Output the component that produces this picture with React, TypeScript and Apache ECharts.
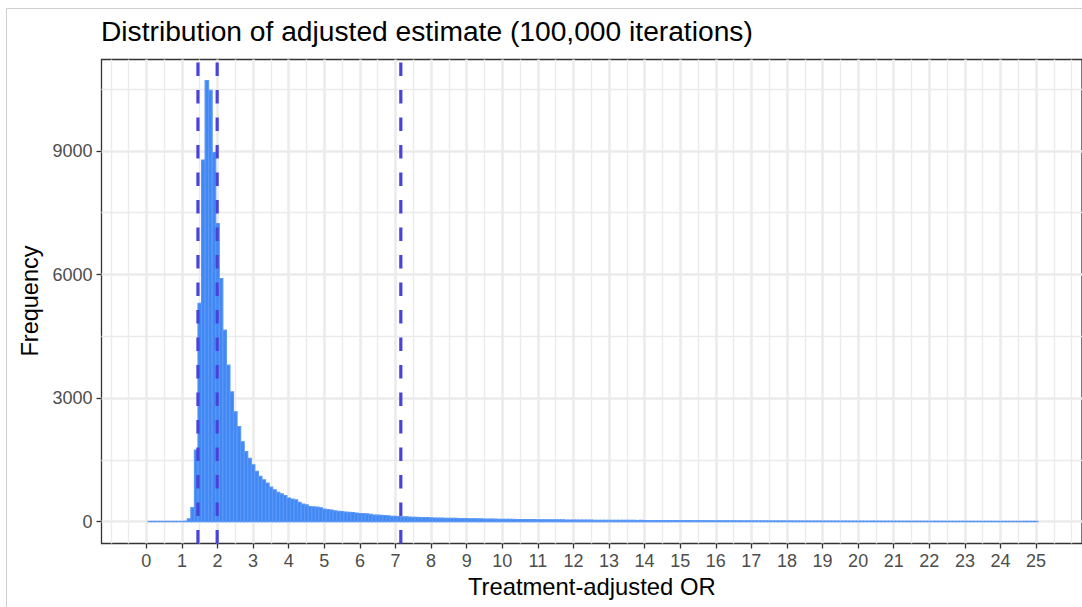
import React, { useEffect, useRef } from "react";
import * as echarts from "echarts";

// Histogram of the treatment-adjusted odds ratio, bins of width 0.1 centred on 0.1, 0.2, ..., 25.0
const BIN_WIDTH = 0.1;
const FIRST_CENTER = 0.1;

// Counts per bin, grouped by range of the odds ratio
const counts0to5 = [
  0, 0, 0, 0, 0, 0, 0, 0, 0, 2, // 0.1 – 1.0
  12, 70, 340, 1740, 5300, 8780, 10710, 10470, 8960, 7240, // 1.1 – 2.0
  5900, 4650, 3800, 3150, 2670, 2310, 1940, 1700, 1540, 1380, // 2.1 – 3.0
  1220, 1100, 1015, 935, 840, 775, 710, 675, 635, 575, // 3.1 – 4.0
  548, 530, 472, 425, 408, 368, 358, 352, 338, 306, // 4.1 – 5.0
];
const counts5to10 = [
  292, 284, 263, 251, 246, 233, 227, 221, 210, 199, // 5.1 – 6.0
  195, 188, 179, 163, 158, 153, 149, 141, 133, 128, // 6.1 – 7.0
  126, 119, 116, 111, 109, 107, 103, 100, 97, 92, // 7.1 – 8.0
  90, 87, 86, 83, 82, 79, 80, 76, 74, 73, // 8.1 – 9.0
  71, 70, 68, 68, 65, 64, 64, 61, 60, 59, // 9.1 – 10.0
];
const counts10to15 = [
  58, 56, 57, 54, 53, 53, 51, 50, 50, 48,
  47, 47, 45, 45, 44, 43, 43, 41, 41, 40,
  40, 39, 39, 37, 38, 36, 36, 35, 35, 34,
  34, 33, 33, 32, 33, 31, 31, 30, 31, 29,
  29, 29, 28, 28, 27, 28, 27, 26, 26, 26,
];
const counts15to20 = [
  25, 26, 25, 24, 25, 24, 23, 24, 23, 22,
  23, 22, 22, 21, 22, 21, 21, 20, 21, 20,
  20, 19, 20, 19, 19, 18, 19, 18, 18, 17,
  18, 17, 17, 17, 16, 17, 16, 16, 16, 15,
  16, 15, 15, 15, 14, 15, 14, 14, 14, 13,
];
const counts20to25 = [
  14, 13, 13, 14, 13, 12, 13, 12, 12, 12,
  12, 12, 11, 12, 11, 11, 11, 10, 11, 10,
  10, 11, 10, 10, 9, 10, 9, 9, 10, 9,
  9, 9, 8, 9, 8, 8, 9, 8, 8, 7,
  8, 7, 8, 7, 7, 7, 8, 6, 7, 7,
];

// Dashed reference lines (lower bound, median, upper bound)
const referenceLines = [1.45, 1.99, 7.15];

// Axis breaks
const xTicks = Array.from({ length: 26 }, (_, i) => i);
const xMinorGrid = [-1, ...Array.from({ length: 27 }, (_, i) => i - 0.5), 26];
const yTicks = [0, 3000, 6000, 9000];
const yMinorGrid = [1500, 4500, 7500, 10500];

const X_MIN = -1.26;
const X_MAX = 26.29;
const Y_MIN = -530;
const Y_MAX = 11220;

const FONT = "'Liberation Sans', Arial, Helvetica, sans-serif";
const BAR_FILL = "#4188f5";
const BAR_EDGE = "#5a98f6";
const REF_COLOR = "#4a43da";
const GRID_COLOR = "#ebebeb";

export default function App() {
  const ref = useRef<HTMLDivElement>(null);

  useEffect(() => {
    if (!ref.current) return;
    const chart = echarts.init(ref.current, undefined, { renderer: "svg" });

    const allCounts = [
      ...counts0to5,
      ...counts5to10,
      ...counts10to15,
      ...counts15to20,
      ...counts20to25,
    ];
    const bins = allCounts.map((n, i) => [
      Math.round((FIRST_CENTER + i * BIN_WIDTH) * 100) / 100,
      n,
    ]);

    const gridLine = (width: number) => ({
      silent: true,
      z: 0,
      symbol: ["none", "none"],
      label: { show: false },
      emphasis: { disabled: true },
      lineStyle: { color: GRID_COLOR, width, type: "solid", opacity: 1 },
      animation: false,
    });

    const option: any = {
      animation: false,
      backgroundColor: "#ffffff",
      title: {
        text: "Distribution of adjusted estimate (100,000 iterations)",
        left: 96,
        top: 12,
        textStyle: {
          fontFamily: FONT,
          fontSize: 28.2,
          fontWeight: "normal",
          color: "#000000",
        },
      },
      grid: {
        left: 101.5,
        top: 59.5,
        right: -3,
        bottom: 63.5,
        show: true,
        backgroundColor: "#ffffff",
        borderColor: "#333333",
        borderWidth: 1.3,
      },
      xAxis: {
        type: "value",
        min: X_MIN,
        max: X_MAX,
        position: "bottom",
        name: "Treatment-adjusted OR",
        nameLocation: "middle",
        nameGap: 29,
        nameTextStyle: { fontFamily: FONT, fontSize: 23.8, color: "#000000" },
        axisLine: { show: false, onZero: false },
        axisTick: {
          show: true,
          customValues: xTicks,
          length: 5,
          lineStyle: { color: "#333333", width: 1.3 },
        },
        axisLabel: {
          customValues: xTicks,
          margin: 8,
          fontFamily: FONT,
          fontSize: 18,
          color: "#4d4d4d",
          formatter: (v: number) => String(v),
        },
        splitLine: { show: false },
      },
      yAxis: {
        type: "value",
        min: Y_MIN,
        max: Y_MAX,
        position: "left",
        axisLine: { show: false, onZero: false },
        axisTick: {
          show: true,
          customValues: yTicks,
          length: 5,
          lineStyle: { color: "#333333", width: 1.3 },
        },
        axisLabel: {
          customValues: yTicks,
          margin: 9,
          fontFamily: FONT,
          fontSize: 18,
          color: "#4d4d4d",
          formatter: (v: number) => String(v),
        },
        splitLine: { show: false },
      },
      graphic: [
        {
          type: "rect",
          silent: true,
          z: 100,
          shape: { x: 6.5, y: 8.5, width: 1100, height: 700 },
          style: { fill: "none", stroke: "#cfcfcf", lineWidth: 1 },
        },
        {
          type: "text",
          silent: true,
          x: 30,
          y: 301,
          rotation: Math.PI / 2,
          style: {
            text: "Frequency",
            font: `23.5px ${FONT}`,
            fill: "#000000",
            align: "center",
            verticalAlign: "middle",
          },
        },
      ],
      series: [
        {
          // panel grid lines, minor then major
          type: "line",
          data: [[0, 0]],
          showSymbol: false,
          silent: true,
          lineStyle: { opacity: 0 },
          z: 0,
          markLine: {
            ...gridLine(1.4),
            data: [
              ...xMinorGrid.map((v) => ({ xAxis: v })),
              ...yMinorGrid.map((v) => ({ yAxis: v })),
            ],
          },
        },
        {
          type: "line",
          data: [[0, 0]],
          showSymbol: false,
          silent: true,
          lineStyle: { opacity: 0 },
          z: 0,
          markLine: {
            ...gridLine(2.6),
            data: [
              ...xTicks.map((v) => ({ xAxis: v })),
              ...yTicks.map((v) => ({ yAxis: v })),
            ],
          },
        },
        {
          // histogram bars
          type: "custom",
          z: 3,
          silent: true,
          data: bins,
          encode: { x: 0, y: 1 },
          renderItem: (_params: any, api: any) => {
            const c = api.value(0);
            const n = api.value(1);
            const topLeft = api.coord([c - BIN_WIDTH / 2, n]);
            const bottomRight = api.coord([c + BIN_WIDTH / 2, 0]);
            const h = bottomRight[1] - topLeft[1];
            // empty bins still show their outline along the baseline
            const drawnH = Math.max(h, 0.3);
            return {
              type: "rect",
              shape: {
                x: topLeft[0],
                y: bottomRight[1] - drawnH,
                width: bottomRight[0] - topLeft[0],
                height: drawnH,
              },
              style: { fill: BAR_FILL, stroke: BAR_EDGE, lineWidth: 1.1 },
            };
          },
        },
        ...referenceLines.map((v) => ({
          type: "line",
          z: 6,
          silent: true,
          showSymbol: false,
          data: [
            [v, Y_MIN],
            [v, Y_MAX],
          ],
          lineStyle: { color: REF_COLOR, width: 3.2, type: [13.5, 14] },
        })),
      ],
    };

    chart.setOption(option);
    return () => chart.dispose();
  }, []);

  return (
    <div
      ref={ref}
      style={{
        position: "fixed",
        left: 0,
        top: 0,
        width: 1082,
        height: 607,
        background: "#ffffff",
      }}
    />
  );
}
